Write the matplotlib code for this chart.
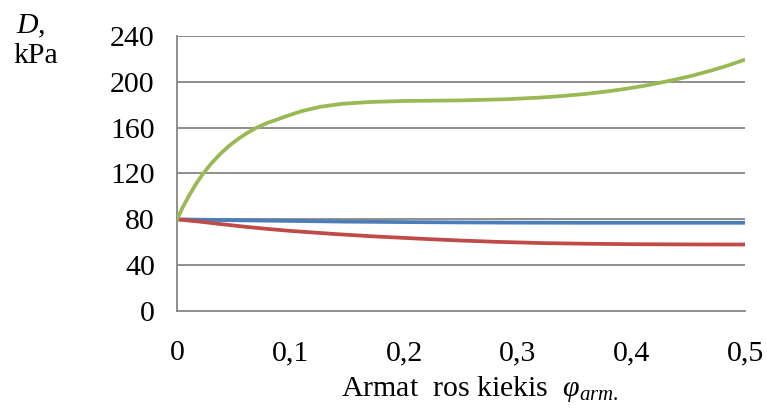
import matplotlib
matplotlib.use("Agg")
import matplotlib.pyplot as plt

plt.rcParams['font.family'] = ['Liberation Serif', 'DejaVu Serif']
plt.rcParams['mathtext.fontset'] = 'custom'
plt.rcParams['mathtext.rm'] = 'Liberation Serif'
plt.rcParams['mathtext.it'] = 'Liberation Serif:italic'

# values
x_green = [0, 0.005, 0.011, 0.017, 0.023, 0.03, 0.038, 0.046, 0.055, 0.062, 0.07, 0.08,
           0.09, 0.097, 0.11, 0.126, 0.145, 0.17, 0.2, 0.25, 0.29, 0.32, 0.338, 0.36,
           0.38, 0.397, 0.415, 0.435, 0.452, 0.47, 0.485, 0.5]
green = [80, 90.4, 101.4, 111.4, 120, 128.6, 137, 144.3, 151, 155.5, 160, 164.3,
         167.8, 170.3, 174.5, 178.2, 180.8, 182.4, 183.3, 183.8, 184.8, 186.3, 187.5, 189.5,
         191.8, 194.2, 197.2, 201.2, 205, 209.8, 214.3, 219.4]
x_blue = [0, 0.05, 0.1, 0.15, 0.2, 0.25, 0.3, 0.35, 0.4, 0.45, 0.5]
blue = [80, 79.2, 78.6, 78, 77.6, 77.3, 77.1, 77, 77, 77, 77]
x_red = [0, 0.02, 0.04, 0.06, 0.08, 0.1, 0.12, 0.14, 0.17, 0.19, 0.22, 0.25, 0.28,
         0.32, 0.36, 0.4, 0.45, 0.5]
red = [80, 78, 75.7, 73.5, 71.6, 69.9, 68.5, 67.1, 65.3, 64.3, 62.8, 61.5, 60.4,
       59.3, 58.7, 58.3, 58.1, 58]
xticks = [0, 0.1, 0.2, 0.3, 0.4, 0.5]
xticklabels = ['0', '0,1', '0,2', '0,3', '0,4', '0,5']
yticks = [0, 40, 80, 120, 160, 200, 240]

fig = plt.figure(figsize=(7.67, 4.09), dpi=100)
ax = fig.add_axes([0.2308, 0.2396, 0.7406, 0.6724])
grid_c = '#868686'
for yv in yticks[1:]:
    ax.axhline(yv, color=grid_c, lw=1.3, zorder=1)
ax.plot(x_blue, blue, color='#4A7EBB', lw=2.7, zorder=3, solid_joinstyle='round')
ax.plot(x_red, red, color='#BE4B48', lw=2.7, zorder=3, solid_joinstyle='round')
ax.plot(x_green, green, color='#98B954', lw=2.7, zorder=3, solid_joinstyle='round')

ax.set_xlim(0, 0.5)
ax.set_ylim(0, 240)
ax.set_xticks(xticks)
ax.set_xticklabels(xticklabels)
ax.set_yticks(yticks)
ax.tick_params(length=0, labelsize=21.5)
ax.tick_params(axis='x', pad=21)
ax.tick_params(axis='y', pad=16)
for s in ['top', 'right']:
    ax.spines[s].set_visible(False)
for s in ['left', 'bottom']:
    ax.spines[s].set_color(grid_c)
    ax.spines[s].set_linewidth(1.3)

fig.text(0.021, 0.935, '$D$,', fontsize=21.5, ha='left', va='center')
fig.text(0.017, 0.862, 'kPa', fontsize=21.5, ha='left', va='center')
fig.text(0.625, 0.05, r'Armat  ros kiekis  $\varphi_{arm.}$', fontsize=21.5, ha='center', va='center')

fig.savefig('out.png', dpi=100)
